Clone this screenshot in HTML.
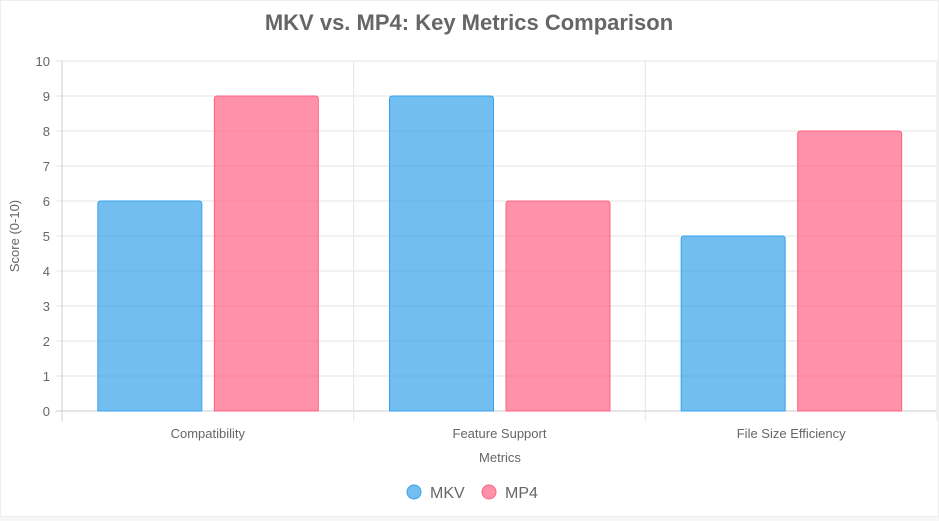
<!DOCTYPE html>
<html><head><meta charset="utf-8"><style>
body{margin:0;background:#f7f7f7;font-family:"Liberation Sans",sans-serif;}
#card{position:absolute;left:0;top:0;width:937px;height:515px;background:#fff;border:1px solid #eee;}
svg{position:absolute;left:0;top:0;}
</style></head><body>
<div id="card"></div>
<svg id="chart" width="939" height="521"></svg>
<script>
const categories=["Compatibility","Feature Support","File Size Efficiency"];
const seriesNames=["MKV","MP4"];
const mkvValues=[6,9,5];
const mp4Values=[9,6,8];
const yTicks=[0,1,2,3,4,5,6,7,8,9,10];
const fills=["rgba(54,162,235,0.7)","rgba(255,99,132,0.7)"];
const strokes=["rgb(54,162,235)","rgb(255,99,132)"];
const svg=document.getElementById('chart');
const NS="http://www.w3.org/2000/svg";
const L=62,R=937,T=61,B=411;
const y=v=>B-(v/10)*(B-T);
const bw=(R-L)/categories.length;
function mk(tag,at,txt){const e=document.createElementNS(NS,tag);for(const k in at)e.setAttribute(k,at[k]);if(txt!==undefined)e.textContent=txt;svg.appendChild(e);return e;}
let t=mk('text',{x:469,y:30,'text-anchor':'middle','font-size':22,'font-weight':'bold',fill:'#666'},"MKV vs. MP4: Key Metrics Comparison");

yTicks.forEach(v=>{
 let g=mk('line',{x1:L-6,x2:R,y1:y(v),y2:y(v),stroke:v===0?'#ccc':'#e5e5e5'});
 
 let l=mk('text',{x:L-12,y:y(v)+5,'text-anchor':'end','font-size':13,fill:'#666'},v);
 
});
for(let i=0;i<=categories.length;i++){
 let g=mk('line',{x1:L+i*bw,x2:L+i*bw,y1:T,y2:B+10,stroke:i===0?'#ccc':'#e5e5e5'});
 
}
const vals=[mkvValues,mp4Values];
categories.forEach((c,i)=>{
 const cx=L+bw*(i+0.5);
 vals.forEach((arr,s)=>{
  const x0=s===0?cx-110:cx+6.5, w=104;
  const yt=y(arr[i]);
  let b=mk('path',{d:`M${x0},${B} L${x0},${yt+3} Q${x0},${yt} ${x0+3},${yt} L${x0+w-3},${yt} Q${x0+w},${yt} ${x0+w},${yt+3} L${x0+w},${B} Z`,fill:fills[s],stroke:strokes[s],'stroke-width':1});
  
 });
 let l=mk('text',{x:cx,y:438,'text-anchor':'middle','font-size':13,fill:'#666'},c);
 
});
let xt=mk('text',{x:500,y:462,'text-anchor':'middle','font-size':13,fill:'#666'},"Metrics");

let yt=mk('text',{x:0,y:0,'text-anchor':'middle','font-size':13,fill:'#666',transform:`translate(19,${(T+B)/2}) rotate(-90)`},"Score (0-10)");

const lx=[414,489];
seriesNames.forEach((n,s)=>{
 let c=mk('circle',{cx:lx[s],cy:492,r:7,fill:fills[s],stroke:strokes[s]});
 
 let l=mk('text',{x:lx[s]+16,y:498,'font-size':16,fill:'#666'},n);
 
});
</script>
</body></html>
